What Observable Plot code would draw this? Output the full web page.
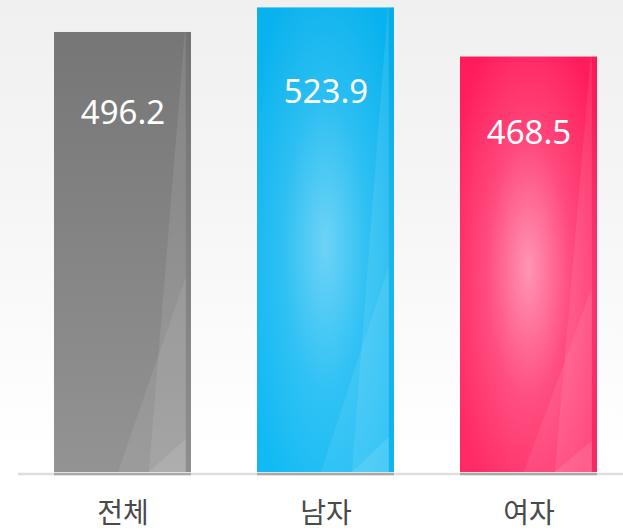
<!DOCTYPE html>
<html><head><meta charset="utf-8">
<script src="https://cdn.jsdelivr.net/npm/d3@7"></script>
<script src="https://cdn.jsdelivr.net/npm/@observablehq/plot@0.6"></script>
<style>
html,body{margin:0;padding:0;width:623px;height:531px;overflow:hidden;
background:linear-gradient(to bottom,#f0f0f0 0%,#f5f5f5 35%,#fbfbfb 65%,#fff 85%,#fff 100%)}
</style></head><body><div id="chart"></div>
<script>
const categories = ["전체", "남자", "여자"];
const values = [496.2, 523.9, 468.5];
const colorKeys = ["gray", "blue", "pink"];
const data = categories.map((c, i) => ({category: c, value: values[i], key: colorKeys[i]}));

const plot = Plot.plot({
  width: 623, height: 531,
  marginLeft: 53, marginRight: 26, marginTop: 2, marginBottom: 59,
  style: {background: "transparent", overflow: "visible"},
  x: {domain: categories, paddingInner: 0.327, paddingOuter: 0, label: null},
  y: {domain: [0, 530], axis: null},
  color: {type: "identity"},
  marks: [
    Plot.ruleY([0], {stroke: "#dedede", strokeWidth: 2.5, dy: 1.5, insetLeft: -35, insetRight: -26}),
    Plot.barY(data, {x: "category", y: "value", fill: d => `url(#base-${d.key})`}),
    Plot.barY(data, {x: "category", y: "value", fill: d => `url(#hl-${d.key})`}),
    Plot.barY(data, {x: "category", y: "value", fill: d => "url(#glass)"}),
    Plot.tickY(data, {x: "category", y: 0, stroke: "#a8a8a8", strokeWidth: 2.5, dy: 1.5}),
    Plot.text(data, {x: "category", y: d => d.value * 0.817, text: d => d.value.toFixed(1),
      fill: "white", fontSize: 33, fontFamily: "Noto Sans"}),
    Plot.axisX({tickSize: 0, tickPadding: 31, fontSize: 28, fill: "#4a4a4a", fontFamily: "Noto Sans CJK KR", label: null})
  ]
});

const svg = d3.select(plot);
const defs = svg.insert("defs", ":first-child");
function linear(id, top, bottom) {
  const g = defs.append("linearGradient").attr("id", id).attr("x1", 0).attr("y1", 0).attr("x2", 0).attr("y2", 1);
  g.append("stop").attr("offset", 0).attr("stop-color", top);
  g.append("stop").attr("offset", 1).attr("stop-color", bottom);
}
function radial(id, alpha) {
  const g = defs.append("radialGradient").attr("id", id).attr("cx", 0.5).attr("cy", 0.51).attr("r", 0.62);
  g.append("stop").attr("offset", 0).attr("stop-color", "#fff").attr("stop-opacity", alpha);
  g.append("stop").attr("offset", 0.5).attr("stop-color", "#fff").attr("stop-opacity", alpha * 0.35);
  g.append("stop").attr("offset", 1).attr("stop-color", "#fff").attr("stop-opacity", 0);
}
linear("base-gray", "#767676", "#939393");
linear("base-blue", "#08b2ee", "#12baf4");
linear("base-pink", "#ff1c5c", "#ff2a66");
radial("hl-gray", 0.0);
radial("hl-blue", 0.4);
radial("hl-pink", 0.52);
const pat = defs.append("pattern").attr("id", "glass")
  .attr("patternUnits", "objectBoundingBox").attr("patternContentUnits", "objectBoundingBox")
  .attr("width", 1).attr("height", 1);
pat.append("polygon").attr("points", "0.467,1 0.962,0.557 0.962,1").attr("fill", "#fff").attr("fill-opacity", 0.08);
pat.append("polygon").attr("points", "0.693,1 0.955,0 0.962,0 0.962,1").attr("fill", "#fff").attr("fill-opacity", 0.09);
pat.append("polygon").attr("points", "0.693,1 0.962,0.925 0.962,1").attr("fill", "#fff").attr("fill-opacity", 0.1);
pat.append("rect").attr("x", 0.962).attr("y", 0).attr("width", 0.038).attr("height", 1).attr("fill", "#000").attr("fill-opacity", 0.03);

document.getElementById("chart").appendChild(plot);
</script></body></html>
